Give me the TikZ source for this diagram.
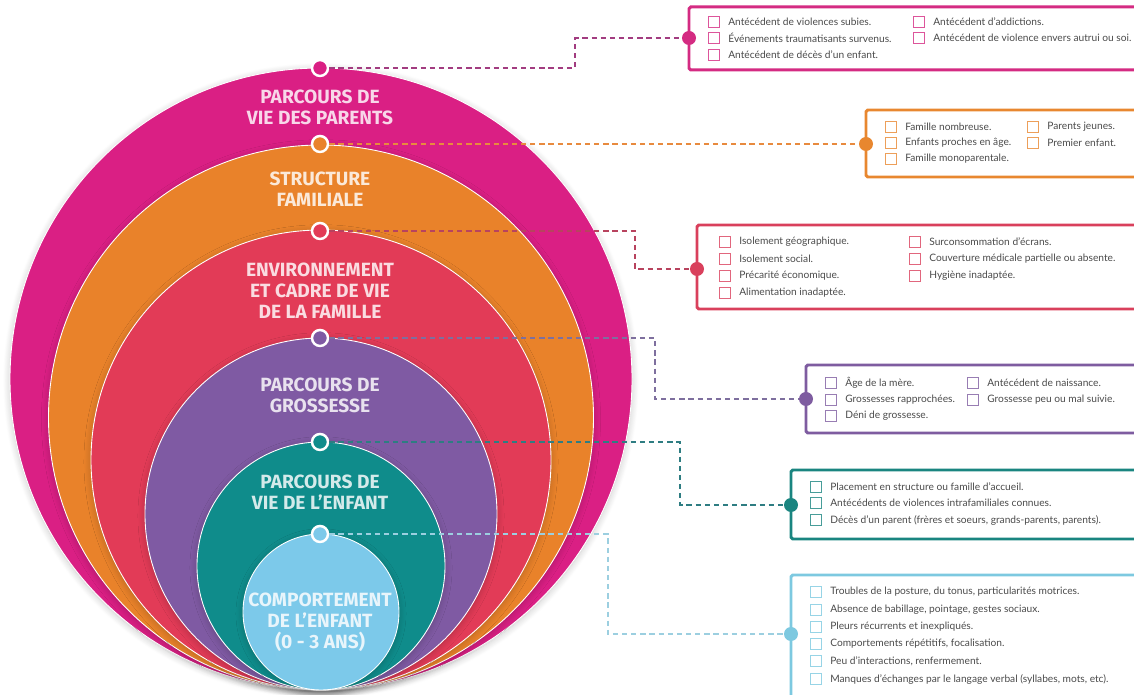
\documentclass[tikz,border=0pt]{standalone}
\usepackage{fontspec}
\setmainfont{Lato}
\newfontfamily\lblfont{Fira Sans}
\usetikzlibrary{shadows.blur}

\definecolor{magA}{HTML}{DA1F84}
\definecolor{oraA}{HTML}{E9822A}
\definecolor{redA}{HTML}{E23B57}
\definecolor{purA}{HTML}{7F5AA3}
\definecolor{teaA}{HTML}{0F8C8B}
\definecolor{bluA}{HTML}{7CC9EA}
\definecolor{magB}{HTML}{D42B82}
\definecolor{oraB}{HTML}{E8872F}
\definecolor{redB}{HTML}{D9405C}
\definecolor{purB}{HTML}{7E5CA0}
\definecolor{teaB}{HTML}{1A8580}
\definecolor{bluB}{HTML}{7DC9E0}
\definecolor{magC}{HTML}{A23C80}
\definecolor{oraC}{HTML}{E88A3E}
\definecolor{redC}{HTML}{B8435E}
\definecolor{purC}{HTML}{7E6F9E}
\definecolor{teaC}{HTML}{2E7D82}
\definecolor{bluC}{HTML}{9CCFE0}
\definecolor{txtgray}{HTML}{4A4A4A}

\tikzset{
  ring/.style={fill=#1, draw=white, line width=0.5pt,
    blur shadow={shadow xshift=0pt, shadow yshift=-1pt, shadow blur radius=4pt,
      shadow blur steps=16, shadow opacity=22}},
  lbl/.style={align=center, text=white!82!#1,
    font=\lblfont\bfseries\fontsize{10.9}{11.9}\selectfont},
  topdot/.style={circle, fill=#1, draw=white, line width=1.4pt, minimum size=0.32cm, inner sep=0},
  boxdot/.style={circle, fill=#1, minimum size=0.28cm, inner sep=0},
  boxline/.style={draw=#1, line width=1.7pt, rounded corners=1pt},
  link/.style={draw=#1, dashed, dash pattern=on 3pt off 2.2pt, line width=0.7pt},
  item/.style={anchor=west, inner xsep=0, inner ysep=1pt, text=txtgray,
    font=\fontsize{5.8}{7}\selectfont,
    label={[draw=#1!80, line width=0.6pt, minimum size=0.22cm, inner sep=0,
      label distance=0.16cm]left:{}}}
}

\begin{document}
\begin{tikzpicture}[x=0.02cm, y=-0.02cm]
  \useasboundingbox (0,0) rectangle (1134,695);

  \draw[ring=magA] (321,379) circle[radius=311];
  \draw[ring=oraA] (321,417.5) circle[radius=272.5];
  \draw[ring=redA] (321,460) circle[radius=230];
  \draw[ring=purA] (321,514) circle[radius=176];
  \draw[ring=teaA] (321,566) circle[radius=124];
  \draw[ring=bluA] (321,612) circle[radius=78];

  \node[lbl=magA] (l1) at (320,107) {PARCOURS DE\\VIE DES PARENTS};
  \node[lbl=oraA] (l2) at (320,189) {STRUCTURE\\FAMILIALE};
  \node[lbl=redA] (l3) at (320,291) {ENVIRONNEMENT\\ET CADRE DE VIE\\DE LA FAMILLE};
  \node[lbl=purA] (l4) at (320,395) {PARCOURS DE\\GROSSESSE};
  \node[lbl=teaA] (l5) at (320,492) {PARCOURS DE\\VIE DE L’ENFANT};
  \node[lbl=bluA] (l6) at (320,622) {COMPORTEMENT\\DE L’ENFANT\\(0 - 3 ANS)};

  \draw[boxline=magB] (1136,7) -- (689,7) -- (689,70) -- (1136,70);
  \draw[boxline=oraB] (1136,110) -- (866,110) -- (866,177) -- (1136,177);
  \draw[boxline=redB] (1136,225) -- (697,225) -- (697,309) -- (1136,309);
  \draw[boxline=purB] (1136,365) -- (806,365) -- (806,433) -- (1136,433);
  \draw[boxline=teaB] (1136,470) -- (791,470) -- (791,539) -- (1136,539);
  \draw[boxline=bluB] (1136,575) -- (791,575) -- (791,700);

  \node[topdot=magA] (d1) at (320,68) {};
  \node[topdot=oraA] (d2) at (320,144) {};
  \node[topdot=redA] (d3) at (320,231) {};
  \node[topdot=purA] (d4) at (320,338) {};
  \node[topdot=teaA] (d5) at (320,442) {};
  \node[topdot=bluA] (d6) at (320,534) {};

  \node[boxdot=magB] (b1) at (689,38) {};
  \node[boxdot=oraB] (b2) at (866,144) {};
  \node[boxdot=redB] (b3) at (697,269) {};
  \node[boxdot=purB] (b4) at (806,399) {};
  \node[boxdot=teaB] (b5) at (791,505) {};
  \node[boxdot=bluB] (b6) at (791,634) {};

  \coordinate (k1) at (575,68);
  \coordinate (k3) at (635,231);
  \coordinate (k4) at (655,338);
  \coordinate (k5) at (680,442);
  \coordinate (k6) at (608,534);

  \draw[link=magC] (d1) -- (k1) |- (b1);
  \draw[link=oraC] (d2) -- (b2);
  \draw[link=redC] (d3) -- (k3) |- (b3);
  \draw[link=purC] (d4) -- (k4) |- (b4);
  \draw[link=teaC] (d5) -- (k5) |- (b5);
  \draw[link=bluC] (d6) -- (k6) |- (b6);

  \node[item=magB] (a1) at (728,22) {Antécédent de violences subies.};
  \node[item=magB] (a2) at (728,38) {Événements traumatisants survenus.};
  \node[item=magB] (a3) at (728,55) {Antécédent de décès d’un enfant.};
  \node[item=magB] (a4) at (933,22) {Antécédent d’addictions.};
  \node[item=magB] (a5) at (933,38) {Antécédent de violence envers autrui ou soi.};

  \node[item=oraB] (s1) at (905,127) {Famille nombreuse.};
  \node[item=oraB] (s2) at (905,143) {Enfants proches en âge.};
  \node[item=oraB] (s3) at (905,159) {Famille monoparentale.};
  \node[item=oraB] (s4) at (1047,127) {Parents jeunes.};
  \node[item=oraB] (s5) at (1047,143) {Premier enfant.};

  \node[item=redB] (e1) at (739,242) {Isolement géographique.};
  \node[item=redB] (e2) at (739,259) {Isolement social.};
  \node[item=redB] (e3) at (739,276) {Précarité économique.};
  \node[item=redB] (e4) at (739,293) {Alimentation inadaptée.};
  \node[item=redB] (e5) at (929,242) {Surconsommation d’écrans.};
  \node[item=redB] (e6) at (929,259) {Couverture médicale partielle ou absente.};
  \node[item=redB] (e7) at (929,276) {Hygiène inadaptée.};

  \node[item=purB] (g1) at (845,383) {Âge de la mère.};
  \node[item=purB] (g2) at (845,400) {Grossesses rapprochées.};
  \node[item=purB] (g3) at (845,416) {Déni de grossesse.};
  \node[item=purB] (g4) at (987,383) {Antécédent de naissance.};
  \node[item=purB] (g5) at (987,400) {Grossesse peu ou mal suivie.};

  \node[item=teaB] (v1) at (830,487) {Placement en structure ou famille d’accueil.};
  \node[item=teaB] (v2) at (830,503) {Antécédents de violences intrafamiliales connues.};
  \node[item=teaB] (v3) at (830,520) {Décès d’un parent (frères et soeurs, grands-parents, parents).};

  \node[item=bluB] (c1) at (830,592) {Troubles de la posture, du tonus, particularités motrices.};
  \node[item=bluB] (c2) at (830,610) {Absence de babillage, pointage, gestes sociaux.};
  \node[item=bluB] (c3) at (830,627) {Pleurs récurrents et inexpliqués.};
  \node[item=bluB] (c4) at (830,644) {Comportements répétitifs, focalisation.};
  \node[item=bluB] (c5) at (830,661) {Peu d’interactions, renfermement.};
  \node[item=bluB] (c6) at (830,679) {Manques d’échanges par le langage verbal (syllabes, mots, etc).};
\end{tikzpicture}
\end{document}
